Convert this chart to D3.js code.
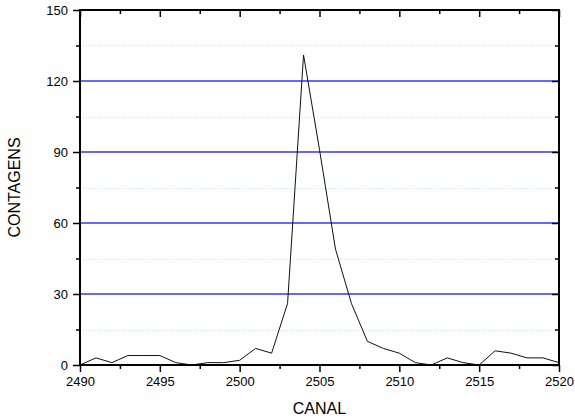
<!DOCTYPE html>
<html>
<head>
<meta charset="utf-8">
<script src="https://cdn.jsdelivr.net/npm/d3@7"></script>
<style>
  html, body { margin: 0; padding: 0; background: #fff; }
  svg { display: block; font-family: "Liberation Sans", Arial, sans-serif; }
</style>
</head>
<body>
<svg id="chart" width="575" height="419"></svg>
<script>
// Spectrum counts per channel
const channels = [2490, 2491, 2492, 2493, 2494, 2495, 2496, 2497, 2498, 2499, 2500,
                  2501, 2502, 2503, 2504, 2505, 2506, 2507, 2508, 2509, 2510,
                  2511, 2512, 2513, 2514, 2515, 2516, 2517, 2518, 2519, 2520];
const counts   = [0, 3, 1, 4, 4, 4, 1, 0, 1, 1, 2,
                  7, 5, 26, 131, 91, 49, 26, 10, 7, 5,
                  1, 0, 3, 1, 0, 6, 5, 3, 3, 1];

const xTicks = [2490, 2495, 2500, 2505, 2510, 2515, 2520];
const xMinorTicks = [2492.5, 2497.5, 2502.5, 2507.5, 2512.5, 2517.5];
const yTicks = [0, 30, 60, 90, 120, 150];
const yMinorTicks = [15, 45, 75, 105, 135];
const yGrid = [30, 60, 90, 120];

const xLabel = "CANAL";
const yLabel = "CONTAGENS";

const margin = { left: 80, top: 10, right: 16, bottom: 54 };
const W = 575, H = 419;
const x0 = margin.left, x1 = W - margin.right;
const y0 = H - margin.bottom, y1 = margin.top;

const x = d3.scaleLinear().domain([2490, 2520]).range([x0, x1]);
const y = d3.scaleLinear().domain([0, 150]).range([y0, y1]);

const svg = d3.select("#chart");

// Minor grid: light green dotted
svg.append("g").attr("class", "grid-minor")
  .selectAll("line").data(yMinorTicks).join("line")
  .attr("x1", x0).attr("x2", x1)
  .attr("y1", d => Math.round(y(d)) + 0.5).attr("y2", d => Math.round(y(d)) + 0.5)
  .attr("stroke", "#b8f0b8").attr("stroke-width", 1)
  .attr("stroke-dasharray", "1,2");

// Major grid: blue solid, slightly soft
svg.append("g").attr("class", "grid-major")
  .selectAll("line").data(yGrid).join("line")
  .attr("x1", x0).attr("x2", x1)
  .attr("y1", d => y(d)).attr("y2", d => y(d))
  .attr("stroke", "#3434ff").attr("stroke-width", 1.4);

// Data trace
const line = d3.line().x((d, i) => x(channels[i])).y(d => y(d));
svg.append("path")
  .datum(counts)
  .attr("d", line)
  .attr("fill", "none")
  .attr("stroke", "#111")
  .attr("stroke-width", 1);

const tickFont = 13;
const axisStyle = g => {
  g.select(".domain").remove();
  g.selectAll(".tick line").attr("stroke", "#000").attr("stroke-width", 1.5);
  g.selectAll(".tick text").attr("font-size", tickFont).attr("fill", "#000")
    .attr("font-family", "'Liberation Sans', Arial, sans-serif");
};

// Bottom axis (ticks outward)
svg.append("g").attr("transform", `translate(0,${y0})`)
  .call(d3.axisBottom(x).tickValues(xTicks).tickFormat(d3.format("d")).tickSize(7).tickPadding(5))
  .call(axisStyle);
svg.append("g").attr("transform", `translate(0,${y0})`)
  .call(d3.axisBottom(x).tickValues(xMinorTicks).tickFormat("").tickSize(4))
  .call(axisStyle);

// Top axis (mirrored ticks inward)
svg.append("g").attr("transform", `translate(0,${y1})`)
  .call(d3.axisBottom(x).tickValues(xTicks).tickFormat("").tickSize(7))
  .call(axisStyle);
svg.append("g").attr("transform", `translate(0,${y1})`)
  .call(d3.axisBottom(x).tickValues(xMinorTicks).tickFormat("").tickSize(4))
  .call(axisStyle);

// Left axis (ticks outward)
svg.append("g").attr("transform", `translate(${x0},0)`)
  .call(d3.axisLeft(y).tickValues(yTicks).tickFormat(d3.format("d")).tickSize(7).tickPadding(5))
  .call(axisStyle);
svg.append("g").attr("transform", `translate(${x0},0)`)
  .call(d3.axisLeft(y).tickValues(yMinorTicks).tickFormat("").tickSize(4))
  .call(axisStyle);

// Right axis (mirrored ticks inward)
svg.append("g").attr("transform", `translate(${x1},0)`)
  .call(d3.axisLeft(y).tickValues(yTicks).tickFormat("").tickSize(7))
  .call(axisStyle);
svg.append("g").attr("transform", `translate(${x1},0)`)
  .call(d3.axisLeft(y).tickValues(yMinorTicks).tickFormat("").tickSize(4))
  .call(axisStyle);

// Frame
svg.append("rect")
  .attr("x", x0).attr("y", y1)
  .attr("width", x1 - x0).attr("height", y0 - y1)
  .attr("fill", "none").attr("stroke", "#000").attr("stroke-width", 2);

// Axis titles
svg.append("text")
  .attr("x", (x0 + x1) / 2).attr("y", 414)
  .attr("text-anchor", "middle")
  .attr("font-size", 16).attr("fill", "#000")
  .text(xLabel);

svg.append("text")
  .attr("transform", `translate(20,${(y0 + y1) / 2}) rotate(-90)`)
  .attr("text-anchor", "middle")
  .attr("font-size", 16).attr("fill", "#000")
  .text(yLabel);
</script>
</body>
</html>
